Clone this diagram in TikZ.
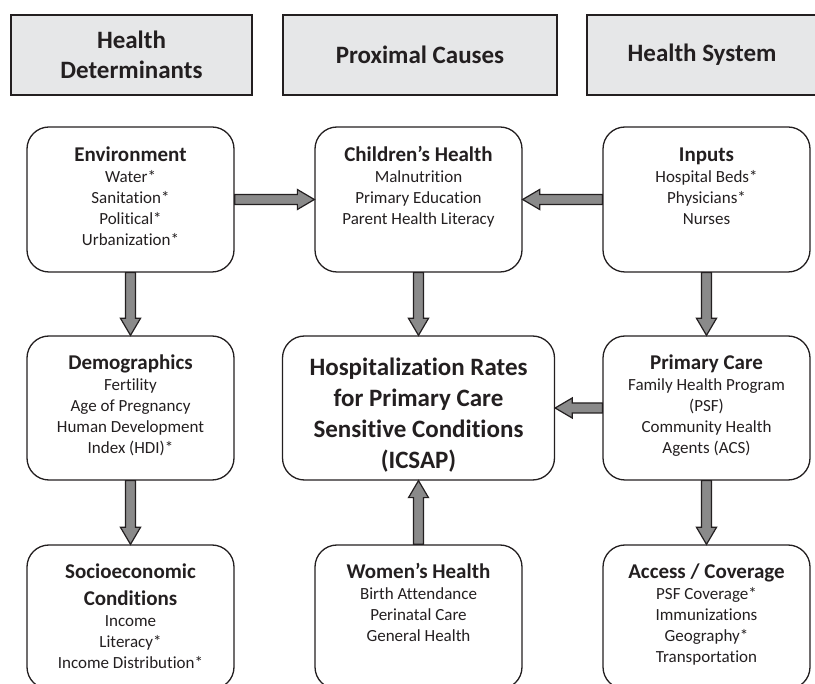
\documentclass[tikz,border=0pt]{standalone}
\usepackage{fontspec}
\setmainfont{Carlito}[Ligatures=NoCommon]
\usetikzlibrary{positioning,calc}

\definecolor{headgray}{HTML}{E6E7E8}
\definecolor{arrowgray}{HTML}{8A8A8A}
\definecolor{ink}{HTML}{231F20}

\tikzset{
    header/.style={draw=ink, line width=1.3pt, fill=headgray, text=ink, minimum width=241pt,
        minimum height=80pt, align=center, font=\bfseries\fontsize{25}{30}\selectfont},
    card/.style={draw=ink, line width=1.3pt, rounded corners=22pt, minimum width=207pt,
        minimum height=145pt},
    cardtext/.style={inner sep=0pt, align=center, text=ink, font=\fontsize{17}{21}\selectfont},
    blockarrow/.style={draw=ink, fill=arrowgray, line width=1.2pt, line join=miter},
}
\newcommand{\ttl}[1]{{\bfseries\fontsize{21}{25}\selectfont\strut #1}}
% fat arrow from one anchor to another
\newcommand{\fatarrow}[2]{%
    \draw[blockarrow] let \p1=(#1), \p2=(#2),
        \n1={atan2(\y2-\y1,\x2-\x1)}, \n2={veclen(\x2-\x1,\y2-\y1)} in
        {[shift={(\p1)}, rotate=\n1]
        (0pt,-5pt) -- ({\n2*1pt-17pt},-5pt) -- ({\n2*1pt-17pt},-10pt) -- ({\n2*1pt},0pt)
        -- ({\n2*1pt-17pt},10pt) -- ({\n2*1pt-17pt},5pt) -- (0pt,5pt) -- cycle};
}

\begin{document}
\begin{tikzpicture}[x=1pt,y=-1pt]
    \useasboundingbox (0,0) rectangle (815,684);
    \clip (0,0) rectangle (815,684);

    %column headers
    \node[header] (hdet) at (131.5,55) {Health\\Determinants};
    \node[header, minimum width=274pt] (hprox) at (420,55) {Proximal Causes};
    \node[header, minimum width=230pt] (hsys) at (702,55) {Health System};

    %top row
    \node[card] (env) at (130.5,199.5) {};
    \node[cardtext, below=17pt of env.north] (envtext)
        {\ttl{Environment}\\Water*\\Sanitation*\\Political*\\Urbanization*};
    \node[card] (child) at (418.5,199.5) {};
    \node[cardtext, below=17pt of child.north] (childtext)
        {\ttl{Children’s Health}\\Malnutrition\\Primary Education\\Parent Health Literacy};
    \node[card] (inputs) at (706.5,199.5) {};
    \node[cardtext, below=17pt of inputs.north] (inputstext)
        {\ttl{Inputs}\\Hospital Beds*\\Physicians*\\Nurses};

    %middle row
    \node[card, minimum height=144pt] (demo) at (130.5,408) {};
    \node[cardtext, below=16pt of demo.north] (demotext)
        {\ttl{Demographics}\\Fertility\\Age of Pregnancy\\Human Development\\Index (HDI)*};
    \node[card, minimum width=272pt, minimum height=144pt] (hosp) at (418.5,408) {};
    \node[cardtext, font=\bfseries\fontsize{25}{31}\selectfont] (hosptext)
        at ($(hosp.center)+(0,7)$)
        {Hospitalization Rates\\for Primary Care\\Sensitive Conditions\\(ICSAP)};
    \node[card, minimum height=144pt] (primary) at (706.5,408) {};
    \node[cardtext, below=16pt of primary.north] (primarytext)
        {\ttl{Primary Care}\\Family Health Program\\(PSF)\\Community Health\\Agents (ACS)};

    %bottom row
    \node[card, minimum height=144pt] (socio) at (130.5,617) {};
    \node[cardtext, below=16pt of socio.north] (sociotext)
        {\ttl{Socioeconomic}\\[1pt]\ttl{Conditions}\\Income\\Literacy*\\Income Distribution*};
    \node[card, minimum height=144pt] (women) at (418.5,617) {};
    \node[cardtext, below=16pt of women.north] (womentext)
        {\ttl{Women’s Health}\\Birth Attendance\\Perinatal Care\\General Health};
    \node[card, minimum height=144pt] (access) at (706.5,617) {};
    \node[cardtext, below=16pt of access.north] (accesstext)
        {\ttl{Access / Coverage}\\PSF Coverage*\\Immunizations\\Geography*\\Transportation};

    %arrows
    \fatarrow{env.east}{child.west}
    \fatarrow{inputs.west}{child.east}
    \fatarrow{env.south}{demo.north}
    \fatarrow{child.south}{hosp.north}
    \fatarrow{inputs.south}{primary.north}
    \fatarrow{demo.south}{socio.north}
    \fatarrow{women.north}{hosp.south}
    \fatarrow{primary.south}{access.north}
    \fatarrow{primary.west}{hosp.east}
\end{tikzpicture}
\end{document}
